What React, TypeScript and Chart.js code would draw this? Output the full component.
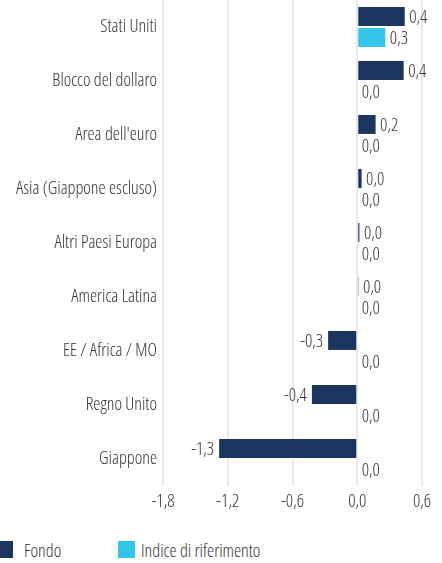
import React, { useEffect, useRef } from "react";
import { Chart, registerables } from "chart.js";

Chart.register(...registerables);

const categories = [
  "Stati Uniti",
  "Blocco del dollaro",
  "Area dell'euro",
  "Asia (Giappone escluso)",
  "Altri Paesi Europa",
  "America Latina",
  "EE / Africa / MO",
  "Regno Unito",
  "Giappone",
];
const fondo = [0.44, 0.43, 0.17, 0.04, 0.02, 0.012, -0.27, -0.42, -1.28];
const indice = [0.26, 0, 0, 0, 0, 0, 0, 0, 0];
const seriesNames = ["Fondo", "Indice di riferimento"];
const colors = ["#1c355e", "#33c4ea"];
const xMin = -1.8;
const xMax = 0.6;
const xStep = 0.6;

const FAMILY = "'Open Sans', sans-serif";
const SIZE = 18;
const TEXT = "#333333";
const chartFont = { family: FAMILY, size: SIZE, weight: "300 condensed" as any };

const fmt = (v: number) => v.toFixed(1).replace(".", ",");

const labelPlugin = {
  id: "barLabels",
  afterDatasetsDraw(chart: any) {
    const ctx = chart.ctx;
    ctx.save();
    ctx.font = `300 condensed ${SIZE}px ${FAMILY}`;
    ctx.fillStyle = TEXT;
    ctx.textBaseline = "middle";
    chart.data.datasets.forEach((ds: any, di: number) => {
      const meta = chart.getDatasetMeta(di);
      meta.data.forEach((el: any, i: number) => {
        const v = ds.data[i] as number;
        if (v >= 0) {
          ctx.textAlign = "left";
          ctx.fillText(fmt(v), el.x + 4.5, el.y + 1);
        } else {
          ctx.textAlign = "right";
          ctx.fillText(fmt(v), el.x - 5, el.y + 1);
        }
      });
    });
    ctx.restore();
  },
};

export default function App() {
  const ref = useRef<HTMLCanvasElement | null>(null);
  useEffect(() => {
    document.body.style.margin = "0";
    if (!ref.current) return;
    const chart = new Chart(ref.current, {
      type: "bar",
      data: {
        labels: categories,
        datasets: [
          { label: seriesNames[0], data: fondo, backgroundColor: colors[0], categoryPercentage: 0.78, barPercentage: 0.9 },
          { label: seriesNames[1], data: indice, backgroundColor: colors[1], categoryPercentage: 0.78, barPercentage: 0.9 },
        ],
      },
      options: {
        indexAxis: "y",
        animation: false,
        responsive: true,
        maintainAspectRatio: false,
        layout: { padding: { top: 0, right: 20, bottom: 0, left: 0 } },
        plugins: { legend: { display: false }, tooltip: { enabled: false } },
        scales: {
          x: {
            min: xMin,
            max: xMax,
            afterFit: (axis: any) => {
              axis.height = 25;
              axis.paddingLeft = 0;
              axis.paddingRight = 0;
            },
            ticks: {
              stepSize: xStep,
              color: TEXT,
              font: chartFont,
              padding: 5,
              maxRotation: 0,
              callback: (v: any) => fmt(Number(v)),
            },
            grid: { color: "#ebe9e6", lineWidth: 2, drawTicks: false },
            border: { display: false },
          },
          y: {
            afterFit: (axis: any) => {
              axis.width = 163;
              axis.paddingTop = 0;
              axis.paddingBottom = 0;
            },
            ticks: {
              color: TEXT,
              font: chartFont,
              padding: 6,
            },
            grid: { display: false, drawTicks: false },
            border: { display: false },
          },
        },
      },
      plugins: [labelPlugin],
    });
    return () => chart.destroy();
  }, []);

  const legendText: React.CSSProperties = {
    position: "absolute",
    top: 538,
    fontFamily: FAMILY,
    fontStretch: "condensed",
    fontWeight: 300,
    fontSize: SIZE,
    color: TEXT,
    lineHeight: "24px",
    whiteSpace: "nowrap",
  };
  return (
    <div style={{ position: "absolute", left: 0, top: 0, width: 442, height: 563, overflow: "hidden", background: "#fff" }}>
      <div style={{ position: "absolute", left: 0, top: 0, width: 442, height: 511 }}>
        <canvas ref={ref} />
      </div>
      <div style={{ position: "absolute", left: -4, top: 541, width: 17, height: 17, background: colors[0] }} />
      <div style={{ ...legendText, left: 24 }}>{seriesNames[0]}</div>
      <div style={{ position: "absolute", left: 118, top: 541, width: 17, height: 17, background: colors[1] }} />
      <div style={{ ...legendText, left: 141 }}>{seriesNames[1]}</div>
    </div>
  );
}
